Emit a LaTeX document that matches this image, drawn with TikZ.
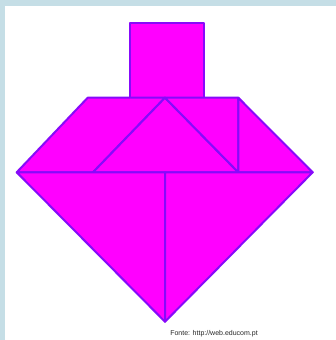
\documentclass[tikz,border=0pt]{standalone}
\usepackage{fontspec}
\setmainfont{Liberation Sans}
\definecolor{piecefill}{RGB}{255,0,255}
\definecolor{pieceline}{RGB}{135,10,250}
\definecolor{framebg}{RGB}{197,222,230}
\begin{document}
\begin{tikzpicture}[x=1pt,y=-1pt,
  piece/.style={fill=piecefill,draw=pieceline,line width=2pt,line join=round}]
\useasboundingbox (0,0) rectangle (336,340);
\fill[white] (0,0) rectangle (336,340);
\fill[framebg] (0,0) rectangle (336,6);
\fill[framebg] (0,0) rectangle (5,340);
% key points
\coordinate (A) at (87.7,97.7);
\coordinate (B) at (165,97.7);
\coordinate (C) at (238.3,97.7);
\coordinate (L) at (16.7,172.3);
\coordinate (M) at (93,172.3);
\coordinate (Mid) at (165,172.3);
\coordinate (D) at (238.3,172.3);
\coordinate (R) at (312.7,172.3);
\coordinate (Bot) at (165,321.7);
% square
\draw[piece] (129.5,22.7) rectangle (204,97.7);
% parallelogram
\draw[piece] (L) -- (A) -- (B) -- (M) -- cycle;
% medium triangle
\draw[piece] (M) -- (B) -- (D) -- cycle;
% small triangles
\draw[piece] (B) -- (C) -- (D) -- cycle;
\draw[piece] (C) -- (R) -- (D) -- cycle;
% large triangles
\draw[piece] (L) -- (Mid) -- (Bot) -- cycle;
\draw[piece] (Mid) -- (R) -- (Bot) -- cycle;
\node[font=\fontsize{7}{8}\selectfont,inner sep=0pt,text=black!85] (src) at (214,334) {Fonte: http://web.educom.pt};
\end{tikzpicture}
\end{document}
